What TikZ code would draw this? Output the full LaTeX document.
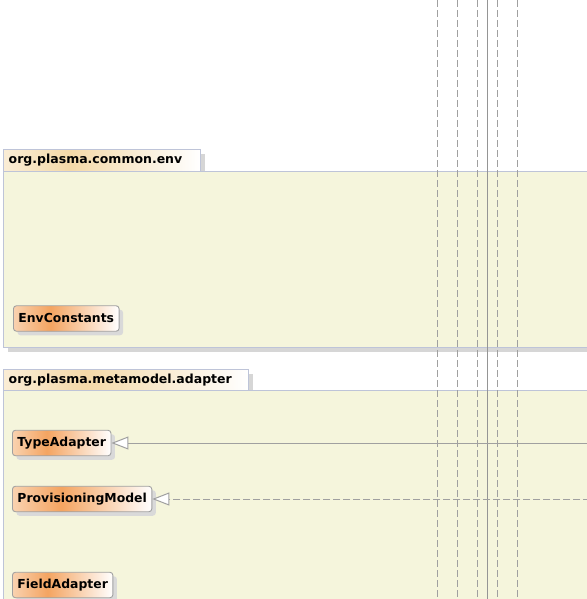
\documentclass[tikz,border=0pt]{standalone}
\usepackage{fontspec}
\setmainfont{DejaVu Sans}
\usetikzlibrary{arrows.meta,shadows}
\definecolor{pkgfill}{HTML}{F5F5DC}
\definecolor{pkgline}{HTML}{BEC4D8}
\definecolor{pkgshadow}{HTML}{D6D6D6}
\definecolor{clsA}{HTML}{F9D2B0}
\definecolor{clsB}{HTML}{F4A461}
\definecolor{tabA}{HTML}{FAEDD6}
\definecolor{tabB}{HTML}{F4D9A8}
\definecolor{clsline}{HTML}{A0A0A0}
\definecolor{clsshadow}{HTML}{D9D9D9}
\definecolor{edge}{HTML}{A0A0A0}
\definecolor{edgedark}{HTML}{959595}
\pgfdeclarehorizontalshading{clsshade}{100bp}{color(0bp)=(clsA); color(25bp)=(clsA); color(42.5bp)=(clsB); color(75bp)=(white); color(100bp)=(white)}
\pgfdeclarehorizontalshading{tabshade}{100bp}{color(0bp)=(tabA); color(25bp)=(tabA); color(42bp)=(tabB); color(75bp)=(white); color(100bp)=(white)}
\tikzset{
  pkgbody/.style={fill=pkgfill, draw=pkgline, line width=1pt},
  pkgtab/.style={shading=tabshade, draw=pkgline, line width=1pt},
  pkgshad/.style={fill=pkgshadow, draw=none},
  pkgtitle/.style={anchor=west, inner sep=0pt, font=\fontsize{12.5}{14}\selectfont\bfseries},
  cls/.style={anchor=west, shading=clsshade, draw=clsline, line width=0.9pt, rounded corners=3pt,
    inner xsep=5pt, inner ysep=0pt, minimum height=25.5pt, text height=9.5pt, text depth=2.5pt,
    font=\fontsize{12.4}{14}\selectfont\bfseries,
    drop shadow={shadow xshift=4pt, shadow yshift=-4pt, fill=clsshadow, opacity=1}},
  lifeline/.style={draw=edge, line width=1pt, dash pattern=on 7pt off 3pt},
  lifesolid/.style={draw=edgedark, line width=1pt},
  gen/.style={draw=edge, line width=1pt, -{Triangle[length=17pt,width=13pt,fill=white]}},
  real/.style={draw=edge, line width=1pt, dash pattern=on 7pt off 3pt, -{Triangle[length=17pt,width=13pt,fill=white]}}
}
\begin{document}
\begin{tikzpicture}[x=1pt,y=-1pt]
\useasboundingbox (0,0) rectangle (586,599);
% package 1
\fill[pkgshad] (8,176) rectangle (595,352);
\fill[pkgshad] (8,154) rectangle (205,171);
\path[pkgtab] (3,149) rectangle (200,171);
\path[pkgbody] (3,171) rectangle (592,347);
\node[pkgtitle] (p1title) at (8.5,160) {org.plasma.common.env};
% package 2
\fill[pkgshad] (8,374) rectangle (253,390);
\path[pkgtab] (3,369) rectangle (248,390);
\path[pkgbody] (3,390) rectangle (592,610);
\node[pkgtitle] (p2title) at (8.5,380) {org.plasma.metamodel.adapter};
% lifelines
\foreach \n/\x in {a/437,b/457,c/477,e/497,f/517}{
  \coordinate (\n top) at (\x,0);
  \coordinate (\n bot) at (\x,599);
  \draw[lifeline] (\n top) -- (\n bot);
}
\coordinate (dtop) at (487,0);
\coordinate (dbot) at (487,599);
\draw[lifesolid] (dtop) -- (dbot);
% classes
\node[cls] (env) at (13,318.5) {EnvConstants};
\node[cls] (type) at (12,443) {TypeAdapter};
\node[cls] (prov) at (12,499) {ProvisioningModel};
\node[cls] (field) at (12,585) {FieldAdapter};
% edges
\coordinate (typeSrc) at (590,443);
\coordinate (provSrc) at (590,499);
\draw[gen] (typeSrc) -- (type.east);
\draw[real] (provSrc) -- (prov.east);
\end{tikzpicture}
\end{document}
